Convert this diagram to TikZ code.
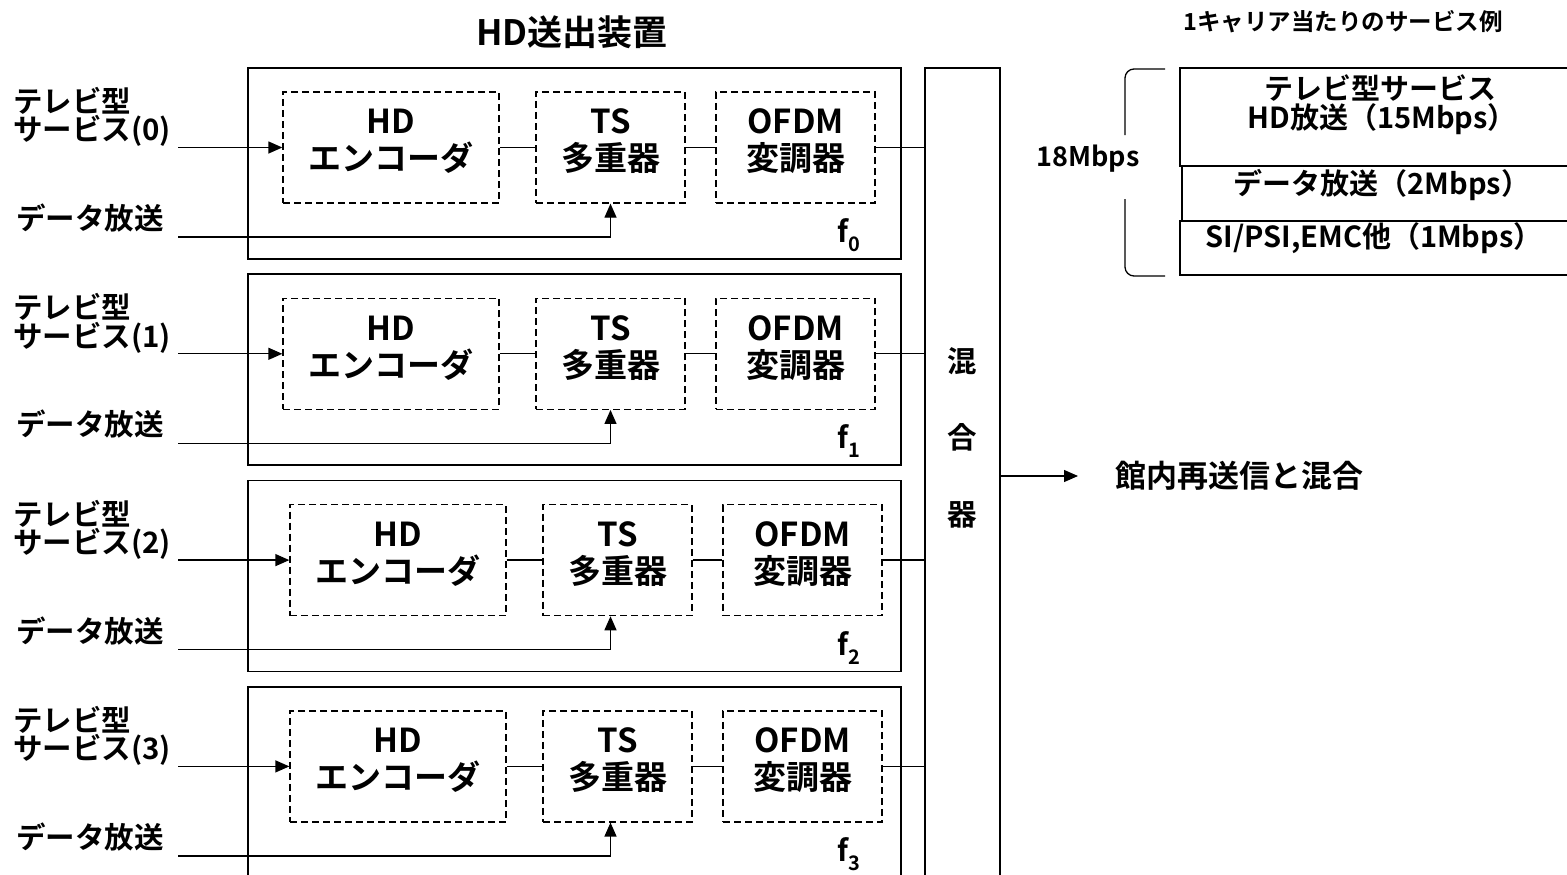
\documentclass[tikz,border=0pt]{standalone}
\usepackage{fontspec}
\setmainfont{Noto Sans CJK JP}[BoldFont={Noto Sans CJK JP Bold}]
\usetikzlibrary{arrows.meta}
\begin{document}
\begin{tikzpicture}[x=1pt,y=-1pt,
  every node/.style={font=\bfseries\fontsize{29.5}{27}\selectfont, inner sep=0pt},
  outerbox/.style={draw, line width=1.7pt},
  dbox/.style={draw, line width=1.3pt, dash pattern=on 7pt off 4pt},
  btext/.style={align=center, yshift=6pt, font=\bfseries\fontsize{33}{37}\selectfont},
  conn/.style={line width=1.3pt},
  arr/.style={conn, -{Triangle[length=14pt,width=12pt]}},
  lbl/.style={align=left, anchor=west},
  tbox/.style={draw, line width=1.3pt},
  ttext/.style={font=\bfseries\fontsize{29}{29}\selectfont},
]
\clip (0,0) rectangle (1567,875);
\fill[white] (0,0) rectangle (1567,875);

% title
\node[font=\bfseries\fontsize{35}{35}\selectfont] (title) at (572,32) {HD送出装置};

% mixer
\node[draw, line width=1.7pt, minimum width=75, minimum height=840] (mix) at (962.5,488) {};
\node (m1) at (962,361) {混};
\node (m2) at (962,437) {合};
\node (m3) at (962,515) {器};

% rows
\foreach \i/\sx/\ax in {0/0/0, 1/0/0, 2/7/-7, 3/7/-7}{
  \pgfmathsetmacro{\yo}{68+\i*206.3}
  \node[outerbox, minimum width=653, minimum height=191] (row\i) at (574.5,\yo+95.5) {};
  \node[dbox, minimum width=216, minimum height=111] (hd\i) at (391+\sx,\yo+79.5) {};
  \node[dbox, minimum width=149, minimum height=111] (ts\i) at (610.5+\sx,\yo+79.5) {};
  \node[dbox, minimum width=159, minimum height=111] (of\i) at (795.5+\sx,\yo+79.5) {};
  \node[btext] (hdt\i) at (hd\i.center) {HD\\エンコーダ};
  \node[btext] (tst\i) at (ts\i.center) {TS\\多重器};
  \node[btext] (oft\i) at (of\i.center) {OFDM\\変調器};
  \node[lbl] (tv\i) at (13,\yo+49) {テレビ型\\サービス(\i)};
  \node[lbl] (db\i) at (16,\yo+150) {データ放送};
  \coordinate (in\i) at (178,\yo+79.5);
  \coordinate (din\i) at (178,\yo+169);
  \draw[arr] (in\i) -- (hd\i.west);
  \draw[arr] (din\i) -| ([xshift=\ax pt]ts\i.south);
  \draw[conn] (hd\i.east) -- (ts\i.west);
  \draw[conn] (ts\i.east) -- (of\i.west);
  \draw[conn] (of\i.east) -- (of\i.east -| mix.west);
  \node (f\i) at (849,\yo+167) {f\raisebox{-0.3em}{\fontsize{20}{20}\selectfont\i}};
}

% output
\node[anchor=west, font=\bfseries\fontsize{31}{31}\selectfont] (out) at (1115,476) {館内再送信と混合};
\coordinate (outtip) at (1078,476);
\draw[arr] (mix.east |- outtip) -- (outtip);

% right table
\node[font=\bfseries\fontsize{23.5}{23.5}\selectfont] (cap) at (1343,22) {1キャリア当たりのサービス例};
\node[tbox, minimum width=400, minimum height=98] (t1) at (1380,117) {};
\node[tbox, minimum width=398, minimum height=55] (t2) at (1381,193.5) {};
\node[tbox, minimum width=400, minimum height=54] (t3) at (1380,248) {};
\node[ttext] (t1a) at (1380,88) {テレビ型サービス};
\node[ttext] (t1b) at (1382,119) {HD放送（15Mbps）};
\node[ttext] (t2a) at (1382,185) {データ放送（2Mbps）};
\node[ttext] (t3a) at (1374,238) {SI/PSI,EMC他（1Mbps）};
\node[font=\bfseries\fontsize{27}{27}\selectfont] (rate) at (1088,159) {18Mbps};
\draw[conn, rounded corners=9pt] (1165,69) -- (1125,69) -- (1125,135);
\draw[conn, rounded corners=9pt] (1125,199) -- (1125,276) -- (1165,276);
\end{tikzpicture}
\end{document}
